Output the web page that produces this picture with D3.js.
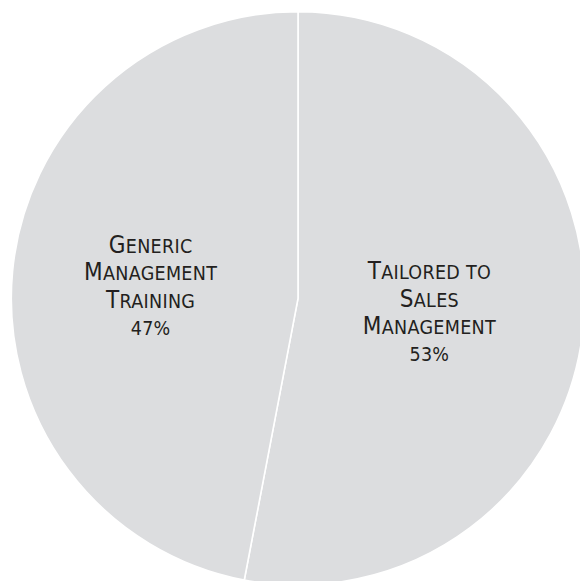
<!DOCTYPE html>
<html>
<head>
<meta charset="utf-8">
<script src="https://cdn.jsdelivr.net/npm/d3@7/dist/d3.min.js"></script>
<style>
  html, body { margin: 0; padding: 0; background: #ffffff; }
  svg { display: block; }
</style>
</head>
<body>
<svg id="chart" width="580" height="581"></svg>
<script>
// Share of sales-management training, by type
const categories = ["Tailored to Sales Management", "Generic Management Training"];
const values = [53, 47];
const labelLines = [
  ["Tailored to", "Sales", "Management"],
  ["Generic", "Management", "Training"]
];
const percentLabels = ["53%", "47%"];

const width = 580, height = 581;
const cx = 298, cy = 298.4, radius = 286.7;
const labelRadius = 140, labelShiftX = -8;
const capSize = 24, smallSize = 19.5, lineHeight = 27.4;
const fontFamily = "'Liberation Sans Narrow', 'DejaVu Sans Condensed', sans-serif";

const svg = d3.select("#chart");
const g = svg.append("g").attr("transform", `translate(${cx},${cy})`);

const data = categories.map((c, i) => ({ category: c, value: values[i], lines: labelLines[i], pct: percentLabels[i] }));

const pie = d3.pie().sort(null).value(d => d.value);
const arc = d3.arc().innerRadius(0).outerRadius(radius);
const labelArc = d3.arc().innerRadius(labelRadius).outerRadius(labelRadius);

const arcs = pie(data);

g.selectAll("path.slice")
  .data(arcs)
  .join("path")
  .attr("class", "slice")
  .attr("d", arc)
  .attr("fill", "#dcdddf")
  .attr("stroke", "#ffffff")
  .attr("stroke-width", 1.6);

// Small-caps style: capitals at full size, lower-case letters as smaller capitals
function addSmallCaps(textSel, str) {
  let run = "", runBig = null;
  const flush = () => {
    if (run.length) {
      textSel.append("tspan")
        .attr("font-size", runBig ? capSize : smallSize)
        .text(run);
    }
    run = "";
  };
  for (const ch of str) {
    const big = ch !== ch.toLowerCase();
    if (runBig === null) runBig = big;
    if (big !== runBig && ch !== " ") { flush(); runBig = big; }
    run += big ? ch : ch.toUpperCase();
  }
  flush();
}

const labels = g.selectAll("g.label")
  .data(arcs)
  .join("g")
  .attr("class", "label")
  .attr("transform", d => {
    const [x, y] = labelArc.centroid(d);
    return `translate(${x + labelShiftX},${y})`;
  });

labels.each(function(d) {
  const sel = d3.select(this);
  const rows = d.data.lines.concat([d.data.pct]);
  const n = rows.length;
  // block spans from the cap top of the first row to the baseline of the last
  const capH = capSize * 0.72;
  const blockH = (n - 1) * lineHeight + capH;
  const firstBaseline = -blockH / 2 + capH;
  rows.forEach((row, i) => {
    const t = sel.append("text")
      .attr("x", 0)
      .attr("y", firstBaseline + i * lineHeight)
      .attr("text-anchor", "middle")
      .attr("font-family", fontFamily)
      .attr("letter-spacing", 0.3)
      .attr("fill", "#231f20");
    if (i === n - 1) {
      t.attr("font-size", smallSize).text(row);
    } else {
      addSmallCaps(t, row);
    }
  });
});
</script>
</body>
</html>
